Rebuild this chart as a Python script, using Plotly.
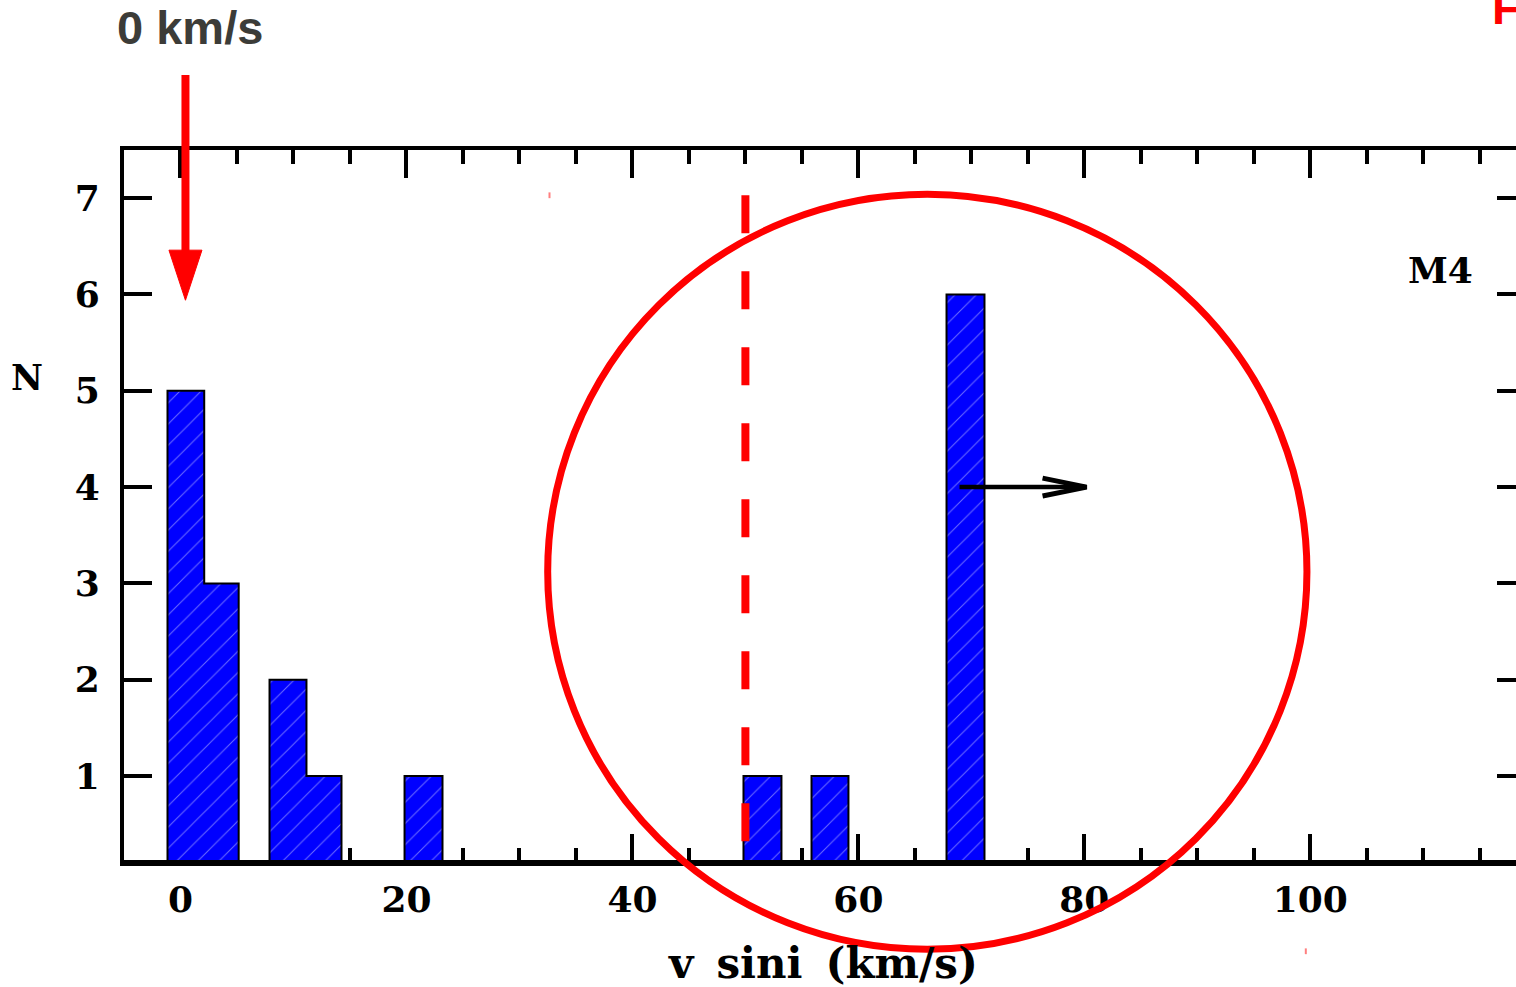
import plotly.graph_objects as go

# ---------------- data ----------------
bin_left = [-1.15, 2.1, 7.88, 11.15, 19.83, 49.83, 55.85, 67.8]
bin_right = [2.1, 5.15, 11.15, 14.25, 23.19, 53.19, 59.12, 71.16]
counts = [5, 3, 2, 1, 1, 1, 1, 6]

x_ticks = [0, 20, 40, 60, 80, 100]
y_ticks = [1, 2, 3, 4, 5, 6, 7]

x_label = "v \u2009sini \u2009(km/s)"
y_label = "N"
cluster_label = "M4"
arrow_label = "0 km/s"
dashed_x = 50

# ---------------- layout geometry ----------------
W, H = 1560, 987
ML, MR, MT, MB = 124, W - 1525, 150, 125
XMIN, XMAX = -5.0, 119.0
YMIN, YMAX = 0.107, 7.5


def xp(v):
    return (v - XMIN) / (XMAX - XMIN)


def yp(v):
    return (v - YMIN) / (YMAX - YMIN)


serif = "DejaVu Serif"
sans = "Liberation Sans"

centers = [(a + b) / 2 for a, b in zip(bin_left, bin_right)]
widths = [b - a for a, b in zip(bin_left, bin_right)]

fig = go.Figure()
fig.add_trace(go.Bar(
    x=centers, y=counts, width=widths,
    marker=dict(
        color="#0000ff",
        line=dict(color="#0000ff", width=0),
        pattern=dict(shape="/", size=15, solidity=0.07,
                     fgcolor="#6a6aff", bgcolor="#0000ff", fillmode="replace"),
    ),
    showlegend=False, hoverinfo="skip",
))

# step outline of contiguous histogram groups
groups = []
for i in range(len(counts)):
    if groups and abs(bin_left[i] - bin_right[groups[-1][-1]]) < 0.05:
        groups[-1].append(i)
    else:
        groups.append([i])
for g in groups:
    ox, oy = [bin_left[g[0]]], [0]
    for i in g:
        ox += [bin_left[i], bin_right[i]]
        oy += [counts[i], counts[i]]
    ox.append(bin_right[g[-1]])
    oy.append(0)
    fig.add_trace(go.Scatter(x=ox, y=oy, mode="lines",
                             line=dict(color="black", width=2),
                             showlegend=False, hoverinfo="skip"))

shapes = []
# bottom axis line redrawn above the bars
shapes.append(dict(type="line", xref="paper", yref="paper", x0=0, x1=1, y0=0, y1=0,
                   line=dict(color="black", width=4), layer="above"))
# red dashed vertical line
shapes.append(dict(type="line", xref="x", yref="y", x0=dashed_x, x1=dashed_x,
                   y0=7.03, y1=0.25, line=dict(color="#ff0000", width=8, dash="38px,38px"),
                   layer="above"))
# red ellipse (paper coords so it is not clipped)
cx, cy, rx, ry = 66.1, 3.12, 33.6, 3.92
shapes.append(dict(type="circle", xref="paper", yref="paper",
                   x0=xp(cx - rx), x1=xp(cx + rx), y0=yp(cy - ry), y1=yp(cy + ry),
                   line=dict(color="#ff0000", width=7), layer="above"))
# red arrow shaft and head
ax_ = 0.44
shapes.append(dict(type="line", xref="paper", yref="paper",
                   x0=xp(ax_), x1=xp(ax_), y0=yp(8.28), y1=yp(6.40),
                   line=dict(color="#ff0000", width=8), layer="above"))
shapes.append(dict(type="path", xref="paper", yref="paper",
                   path=f"M {xp(ax_-1.46)} {yp(6.46)} L {xp(ax_+1.46)} {yp(6.46)} L {xp(ax_)} {yp(5.94)} Z",
                   fillcolor="#ff0000", line=dict(color="#ff0000", width=1), layer="above"))
# black arrow at N=4
shapes.append(dict(type="line", xref="x", yref="y", x0=68.95, x1=80.1, y0=4, y1=4,
                   line=dict(color="black", width=4.5), layer="above"))
shapes.append(dict(type="path", xref="x", yref="y",
                   path="M 76.3 4.093 L 80.2 4 L 76.3 3.907",
                   line=dict(color="black", width=5), layer="above"))
# tiny red marks
shapes.append(dict(type="line", xref="paper", yref="paper", x0=xp(32.66), x1=xp(32.66),
                   y0=yp(7.0), y1=yp(7.06), line=dict(color="rgba(255,0,0,0.5)", width=2)))
shapes.append(dict(type="line", xref="paper", yref="paper", x0=xp(99.6), x1=xp(99.6),
                   y0=yp(-0.79), y1=yp(-0.85), line=dict(color="rgba(255,0,0,0.5)", width=2)))

annotations = [
    dict(text=arrow_label, xref="paper", yref="paper", x=xp(0.8), y=yp(8.77),
         xanchor="center", yanchor="middle", showarrow=False,
         font=dict(family=sans, size=47, color="#3c3c38", weight="bold")),
    dict(text="F", xref="paper", yref="paper", x=xp(115.9), y=yp(8.98),
         xanchor="left", yanchor="middle", showarrow=False,
         font=dict(family=sans, size=47, color="#ff0000", weight="bold")),
    dict(text=cluster_label, xref="paper", yref="paper", x=xp(111.5), y=yp(6.25),
         xanchor="center", yanchor="middle", showarrow=False,
         font=dict(family=serif, size=36, color="black", weight="bold")),
    dict(text=y_label, xref="paper", yref="paper", x=xp(-13.6), y=yp(5.14),
         xanchor="center", yanchor="middle", showarrow=False,
         font=dict(family=serif, size=35, color="black", weight="bold")),
    dict(text=x_label, xref="paper", yref="paper", x=xp(56.9), y=yp(-0.95),
         xanchor="center", yanchor="middle", showarrow=False,
         font=dict(family=serif, size=42, color="black", weight="bold")),
]

axis_common = dict(showline=True, linecolor="black", linewidth=4, mirror="ticks",
                   ticks="inside", ticklen=28, tickwidth=4, tickcolor="black",
                   showgrid=False, zeroline=False, layer="below traces",
                   tickfont=dict(family=serif, size=36, color="black", weight="bold"))

fig.update_layout(
    width=W, height=H,
    margin=dict(l=ML, r=MR, t=MT, b=MB, pad=0),
    paper_bgcolor="white", plot_bgcolor="white",
    xaxis=dict(range=[XMIN, XMAX], tickvals=x_ticks, ticklabelstandoff=3,
               minor=dict(dtick=5, tick0=0, ticks="inside", ticklen=14, tickwidth=4,
                          tickcolor="black", showgrid=False),
               **axis_common),
    yaxis=dict(range=[YMIN, YMAX], tickvals=y_ticks, ticklabelstandoff=13, **axis_common),
    shapes=shapes, annotations=annotations, bargap=0,
)

fig.write_html("out.html",
               post_script="document.body.style.margin='0';document.body.style.overflow='hidden';"
                           "document.documentElement.style.overflow='hidden';")
